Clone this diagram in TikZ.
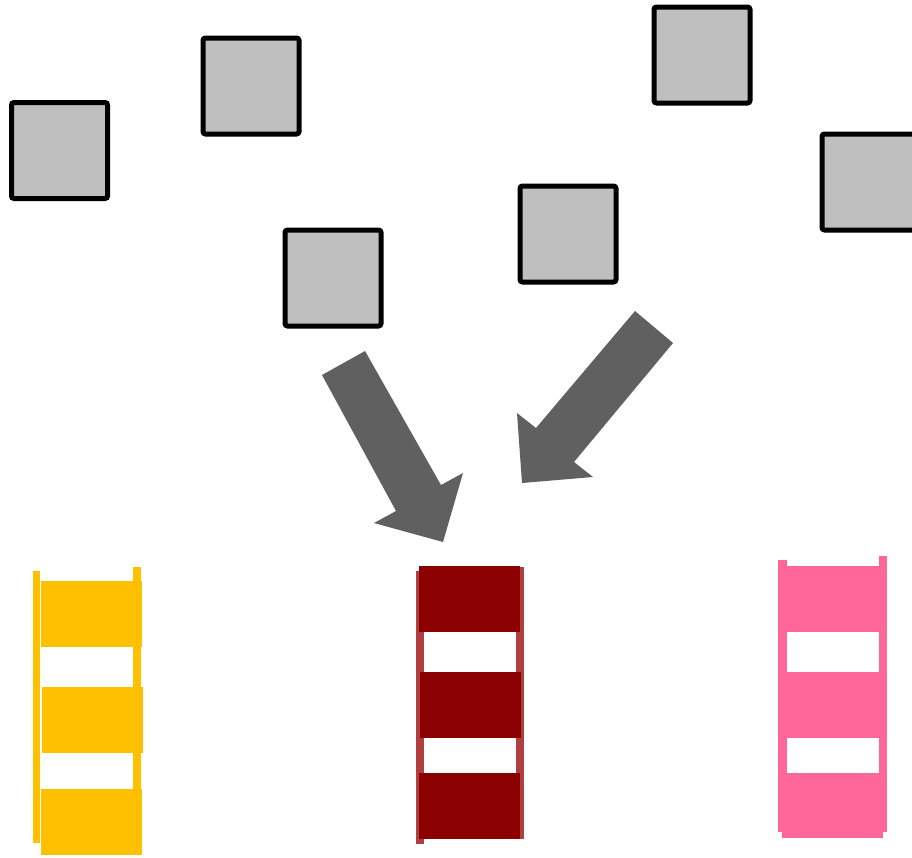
\documentclass[tikz,border=0pt]{standalone}
\definecolor{sq}{HTML}{BFBFBF}
\definecolor{arr}{HTML}{606060}
\definecolor{yel}{HTML}{FFC000}
\definecolor{dred}{HTML}{8B0000}
\definecolor{lred}{HTML}{B04040}
\definecolor{pnk}{HTML}{FF6699}
\tikzset{
  sqbox/.style={fill=sq,draw=black,line width=5pt,rounded corners=2.5pt},
  bigarrow/.style={fill=arr,draw=none},
}
\begin{document}
\begin{tikzpicture}[x=1pt,y=-1pt]
\useasboundingbox (0,0) rectangle (912,857);
\begin{scope}
\clip (0,0) rectangle (912,857);
% squares
\draw[sqbox] (11.5,102.5) rectangle (107.5,198.5);
\draw[sqbox] (203,38) rectangle (299,134);
\draw[sqbox] (285,230) rectangle (381,326);
\draw[sqbox] (520,186) rectangle (616,282);
\draw[sqbox] (654,7) rectangle (750,103);
\draw[sqbox] (822,134) rectangle (918,230);
\end{scope}
% arrows
\fill[bigarrow] (322,375) -- (365,351) -- (441,485) -- (463,473) -- (443,542) -- (374,523) -- (396,511) -- cycle;
\fill[bigarrow] (635,311) -- (673,343) -- (574,462) -- (593,477) -- (522,483) -- (517,413) -- (536,428) -- cycle;
% yellow stack
\fill[yel] (33,571) rectangle (40,843);
\fill[yel] (133,567) rectangle (141,845);
\fill[yel] (41,581) rectangle (142,647);
\fill[yel] (42,687) rectangle (143,753);
\fill[yel] (41,789) rectangle (142,855);
% red stack
\fill[lred] (416,571) rectangle (424,844);
\fill[lred] (516,567) rectangle (524,839);
\fill[dred] (419,566) rectangle (520,632);
\fill[dred] (420,672) rectangle (521,738);
\fill[dred] (419,773) rectangle (520,839);
% pink stack
\fill[pnk] (778,560) rectangle (787,832);
\fill[pnk] (879,556) rectangle (887,828);
\fill[pnk] (779,566) rectangle (887,632);
\fill[pnk] (779,672) rectangle (887,738);
\fill[pnk] (782,773) rectangle (883,838);
\fill[pnk] (779,773) rectangle (887,832);
\end{tikzpicture}
\end{document}
